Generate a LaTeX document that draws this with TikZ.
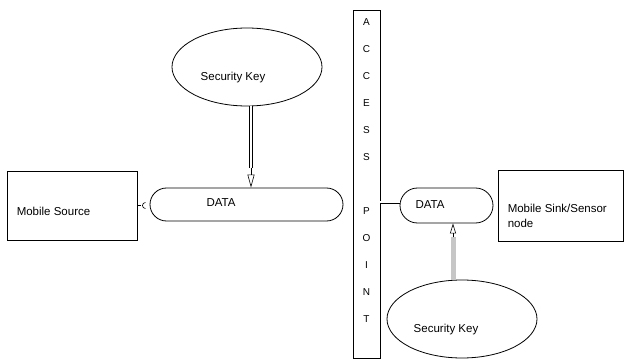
\documentclass[tikz,border=0pt]{standalone}
\usepackage{fontspec}
\setmainfont{Liberation Sans}
\usetikzlibrary{shapes.geometric,shapes.misc,arrows.meta,calc}
\begin{document}
\begin{tikzpicture}[x=1pt,y=-1pt,
  every node/.style={font=\fontsize{11.5}{15}\selectfont, inner sep=0pt},
  boxnode/.style={draw, line width=0.9pt, rectangle},
  datanode/.style={draw, line width=0.8pt, rounded rectangle},
  keynode/.style={draw, line width=0.8pt, ellipse},
  thin line/.style={line width=0.6pt},
]
\useasboundingbox (0,0) rectangle (625,361);
% boxes
\node[boxnode, minimum width=130pt, minimum height=69pt] (src) at (72,205.5) {};
\node[anchor=west] (srct) at ($(src.west)+(10,5.5)$) {Mobile Source};
\node[boxnode, minimum width=125pt, minimum height=71pt] (sink) at (560.5,205.5) {};
\node[anchor=west, align=left] (sinkt) at ($(sink.west)+(10,10)$) {Mobile Sink/Sensor\\node};
% access point
\node[boxnode, minimum width=27pt, minimum height=348pt] (ap) at (366.5,184) {};
\node[align=center, font=\fontsize{10}{27}\selectfont] (apt) at (366.5,171)
  {A\\C\\C\\E\\S\\S\\\mbox{}\\P\\O\\I\\N\\T};
% data
\node[datanode, minimum width=193pt, minimum height=33pt] (d1) at (246.5,204.5) {};
\node (d1t) at (221,203) {DATA};
\node[datanode, minimum width=93pt, minimum height=35pt] (d2) at (446.5,205.5) {};
\node (d2t) at (430,205) {DATA};
% keys
\node[keynode, minimum width=150pt, minimum height=78pt] (k1) at (247,67) {};
\node (k1t) at (233,78) {Security Key};
\node[keynode, minimum width=150pt, minimum height=78pt] (k2) at (462,319) {};
\node (k2t) at (446,330) {Security Key};
% top arrow
\coordinate (a1s) at ($(k1.south)+(4,0)$);
\coordinate (a1e) at (a1s |- d1.north);
\coordinate (a1m) at ($(a1e)+(0,-20)$);
\draw[thin line, double, double distance=2.5pt] (a1s) -- (a1m);
\draw[thin line, -{Triangle[open, length=13pt, width=7pt]}] (a1m) -- (a1e);
% bottom arrow
\coordinate (a2s) at ($(k2.north)+(-9,0)$);
\coordinate (a2e) at (a2s |- d2.south);
\coordinate (a2m) at ($(a2e)+(0,14)$);
\draw[gray!45, line width=5pt] (a2s) -- (a2m);
\draw[thin line, -{Triangle[open, length=10pt, width=6pt]}] (a2m) -- (a2e);
% left connector
\coordinate (c1) at ($(src.east)+(4,0)$);
\draw[thin line] (src.east) -- (c1);
\draw[thin line] ($(c1)+(4,-3)$) arc[start angle=90, end angle=270, radius=3pt];
% AP to data2
\draw[thin line, double, double distance=2pt] ([yshift=3pt]d2.west) -- ([yshift=3pt]d2.west -| ap.east);
\end{tikzpicture}
\end{document}
